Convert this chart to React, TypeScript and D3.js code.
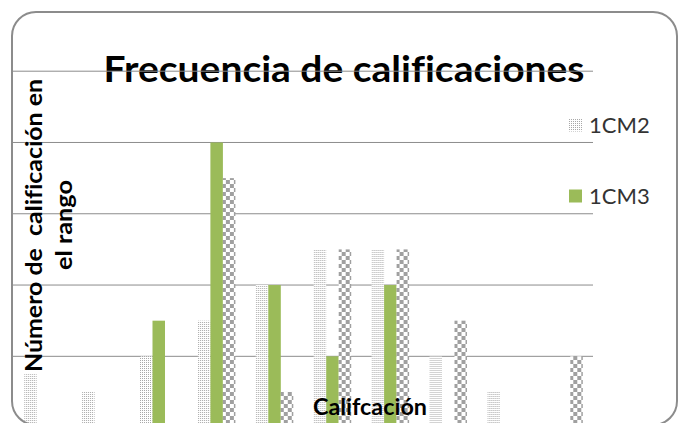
import React from "react";
import * as d3 from "d3";

const categories = ["0-1", "1-2", "2-3", "3-4", "4-5", "5-6", "6-7", "7-8", "8-9", "9-10"];
const seriesNames = ["1CM2", "1CM3", "1CM4"];
const values1CM2 = [3, 2, 4, 6, 8, 10, 10, 4, 2, 0];
const values1CM3 = [0, 0, 6, 16, 8, 4, 8, 0, 0, 0];
const values1CM4 = [0, 0, 0, 14, 2, 10, 10, 6, 0, 4];
const gridTicks = [4, 8, 12, 16, 20];
const legendNames = ["1CM2", "1CM3"];

const W = 681;
const H = 423;

export default function App() {
  const x = d3.scaleBand<string>().domain(categories).range([14, 593]).paddingInner(0.352).paddingOuter(0.176);
  const xs = d3.scaleBand<string>().domain(seriesNames).range([0, x.bandwidth()]).padding(0);
  const y = d3.scaleLinear().domain([0, 20]).range([427.6, 71.2]);
  const series = [values1CM2, values1CM3, values1CM4];
  const fills = ["url(#dots)", "#9bbb59", "url(#checker)"];
  const font = "Lato, 'Open Sans', sans-serif";
  const noLig = { fontVariantLigatures: "none" } as React.CSSProperties;

  return (
    <svg width={W} height={H} style={{ position: "absolute", left: 0, top: 0, display: "block" }}>
      <defs>
        <pattern id="dots" width={2} height={2} patternUnits="userSpaceOnUse">
          <rect width={2} height={2} fill="#ffffff" />
          <rect width={1} height={1} fill="#a8a8a8" />
        </pattern>
        <pattern id="checker" width={8} height={8} patternUnits="userSpaceOnUse">
          <rect width={8} height={8} fill="#ffffff" />
          <rect x={0} y={0} width={4} height={4} fill="#a0a0a0" />
          <rect x={4} y={4} width={4} height={4} fill="#a0a0a0" />
        </pattern>
      </defs>
      <rect x={0} y={0} width={W} height={H} fill="#ffffff" />
      <text x={344} y={82} textAnchor="middle" fontFamily={font} fontWeight={700} fontSize={37}
        textLength={481} lengthAdjust="spacingAndGlyphs" fill="#000" style={noLig}>Frecuencia de calificaciones</text>
      {gridTicks.map((t) => (
        <line key={t} x1={13} x2={593} y1={y(t)} y2={y(t)} stroke="#8c8c8c" strokeWidth={1} />
      ))}
      {categories.map((c, i) => (
        <g key={c} transform={`translate(${x(c)},0)`}>
          {series.map((vals, s) =>
            vals[i] > 0 ? (
              <rect key={s} x={xs(seriesNames[s])} y={y(vals[i])} width={xs.bandwidth()}
                height={y(0) - y(vals[i])} fill={fills[s]} />
            ) : null
          )}
        </g>
      ))}
      <rect x={12} y={12} width={665} height={413} rx={24} ry={24} fill="none" stroke="#8c8c8c" strokeWidth={2} />
      {legendNames.map((n, i) => (
        <g key={n} transform={`translate(569, ${125 + i * 71})`}>
          <rect x={0} y={-6.5} width={13} height={13} fill={fills[i]} />
          <text x={20} y={8} fontFamily={font} fontSize={22} fill="#333">{n}</text>
        </g>
      ))}
      <text transform="translate(42,225.5) rotate(-90)" textAnchor="middle" fontFamily={font} fontWeight={700}
        fontSize={22} textLength={293} lengthAdjust="spacingAndGlyphs" style={{ whiteSpace: "pre", ...noLig }} fill="#000">
        Número de  calificación en
      </text>
      <text transform="translate(72,225) rotate(-90)" textAnchor="middle" fontFamily={font} fontWeight={700}
        fontSize={22} textLength={90} lengthAdjust="spacingAndGlyphs" fill="#000">el rango</text>
      <text x={370} y={415} textAnchor="middle" fontFamily={font} fontWeight={700} fontSize={22}
        textLength={114} lengthAdjust="spacingAndGlyphs" fill="#000" style={noLig}>Califcación</text>
    </svg>
  );
}
